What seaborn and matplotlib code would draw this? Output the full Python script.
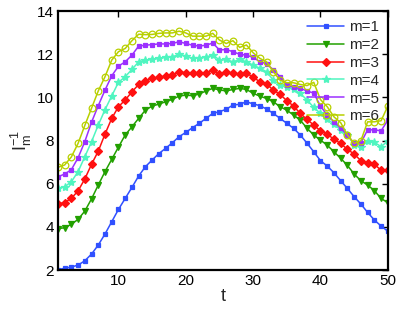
import numpy as np
import pandas as pd
import matplotlib
matplotlib.use("Agg")
import matplotlib.pyplot as plt
import seaborn as sns

t = np.arange(1, 51)

m1 = [2.02, 2.08, 2.14, 2.23, 2.43, 2.74, 3.16, 3.67, 4.24, 4.81,
      5.32, 5.83, 6.36, 6.79, 7.1, 7.4, 7.64, 7.9, 8.18, 8.38,
      8.6, 8.8, 9.03, 9.26, 9.34, 9.45, 9.65, 9.68, 9.8, 9.7,
      9.62, 9.46, 9.26, 9.03, 8.8, 8.57, 8.26, 7.88, 7.48, 7.07,
      6.82, 6.51, 6.14, 5.78, 5.4, 5.06, 4.67, 4.32, 4.04, 3.8]
m2 = [3.92, 3.96, 4.12, 4.35, 4.73, 5.3, 5.94, 6.56, 7.13, 7.7,
      8.26, 8.64, 9.03, 9.41, 9.6, 9.69, 9.8, 9.91, 10.06, 10.11,
      10.08, 10.16, 10.3, 10.42, 10.35, 10.3, 10.37, 10.42, 10.37, 10.19,
      10.06, 9.95, 9.8, 9.57, 9.41, 9.18, 8.95, 8.57, 8.26, 8.02,
      7.79, 7.48, 7.18, 6.85, 6.45, 6.14, 5.94, 5.68, 5.32, 5.12]
m3 = [5.06, 5.13, 5.32, 5.67, 6.22, 6.9, 7.51, 8.3, 9.03, 9.57,
      9.88, 10.26, 10.6, 10.77, 10.88, 10.93, 10.99, 11.04, 11.19, 11.14,
      11.11, 11.11, 11.14, 11.28, 11.08, 11.19, 11.11, 11.08, 11.14, 10.93,
      10.73, 10.62, 10.34, 10.14, 9.85, 9.6, 9.26, 8.98, 8.72, 8.45,
      8.3, 8.06, 7.87, 7.59, 7.38, 7.07, 6.97, 6.91, 6.62, 6.62]
m4 = [5.79, 5.86, 6.09, 6.56, 7.25, 7.95, 8.72, 9.43, 10.07, 10.7,
      10.96, 11.3, 11.65, 11.73, 11.76, 11.81, 11.86, 11.88, 12.0, 11.92,
      11.81, 11.84, 11.86, 11.98, 11.73, 11.76, 11.65, 11.76, 11.65, 11.5,
      11.35, 11.19, 10.8, 10.57, 10.5, 10.37, 10.19, 9.88, 9.54, 9.26,
      8.98, 8.77, 8.49, 8.26, 7.8, 7.7, 7.97, 7.92, 7.72, 7.98]
m5 = [6.32, 6.45, 6.65, 7.2, 7.95, 8.85, 9.62, 10.34, 11.0, 11.45,
      11.65, 11.96, 12.38, 12.42, 12.45, 12.48, 12.48, 12.5, 12.58, 12.5,
      12.42, 12.38, 12.42, 12.52, 12.2, 12.22, 12.12, 12.0, 11.96, 11.86,
      11.65, 11.57, 11.27, 10.96, 10.57, 10.47, 10.42, 10.3, 10.2, 9.6,
      9.18, 8.87, 8.57, 8.26, 7.87, 7.9, 8.5, 8.5, 8.45, 8.95]
m6 = [6.76, 6.87, 7.24, 7.87, 8.7, 9.5, 10.3, 10.96, 11.73, 12.12,
      12.27, 12.63, 12.93, 12.91, 12.92, 12.97, 12.99, 12.99, 13.07, 12.99,
      12.84, 12.84, 12.84, 12.97, 12.66, 12.5, 12.63, 12.32, 12.43, 12.07,
      11.81, 11.65, 11.19, 10.8, 10.68, 10.68, 10.6, 10.55, 10.7, 9.9,
      9.57, 9.1, 8.83, 8.26, 7.87, 8.0, 8.87, 8.87, 8.92, 9.6]

labels = ['m=1', 'm=2', 'm=3', 'm=4', 'm=5', 'm=6']
series = [m1, m2, m3, m4, m5, m6]
colors = ['#3050ff', '#22a000', '#ff1010', '#50f5c0', '#9b30ff', '#b8d000']
markers = ['s', 'v', 'D', '*', 's', 'o']
msizes = [3.2, 5, 3.6, 6, 2.6, 4.8]

sns.set_style('white')
plt.rcParams['font.family'] = ['Liberation Sans', 'DejaVu Sans']
plt.rcParams['mathtext.fontset'] = 'custom'
plt.rcParams['mathtext.rm'] = 'Liberation Sans'
plt.rcParams['mathtext.it'] = 'Liberation Sans'

fig = plt.figure(figsize=(3.99, 3.09), dpi=100)
ax = fig.add_axes([0.145, 0.126, 0.827, 0.838])

for lab, y, c, mk, ms in zip(labels, series, colors, markers, msizes):
    df = pd.DataFrame({'t': t, 'v': y})
    mfc = 'none' if mk == 'o' else c
    sns.lineplot(data=df, x='t', y='v', ax=ax, color=c, marker=mk,
                 markersize=ms, markeredgecolor=c, markerfacecolor=mfc,
                 markeredgewidth=0.9, linewidth=1.1, label=lab)

ax.set_xlim(1, 50)
ax.set_ylim(2, 14)
ax.set_xticks([10, 20, 30, 40, 50])
ax.set_yticks([2, 4, 6, 8, 10, 12, 14])
ax.tick_params(direction='in', length=4, width=1, labelsize=11,
               top=True, right=True, colors='black', pad=3)
for s in ax.spines.values():
    s.set_linewidth(1.6)
    s.set_color('black')
ax.set_xlabel('t', fontsize=13, labelpad=0)
ax.set_ylabel(r'$\mathregular{I_m^{-1}}$', fontsize=13, labelpad=2)

leg = ax.legend(loc='upper right', frameon=False, fontsize=11,
                handlelength=2.4, handletextpad=0.3, labelspacing=0.25,
                borderaxespad=0.2)

fig.savefig('out.png', dpi=100)
